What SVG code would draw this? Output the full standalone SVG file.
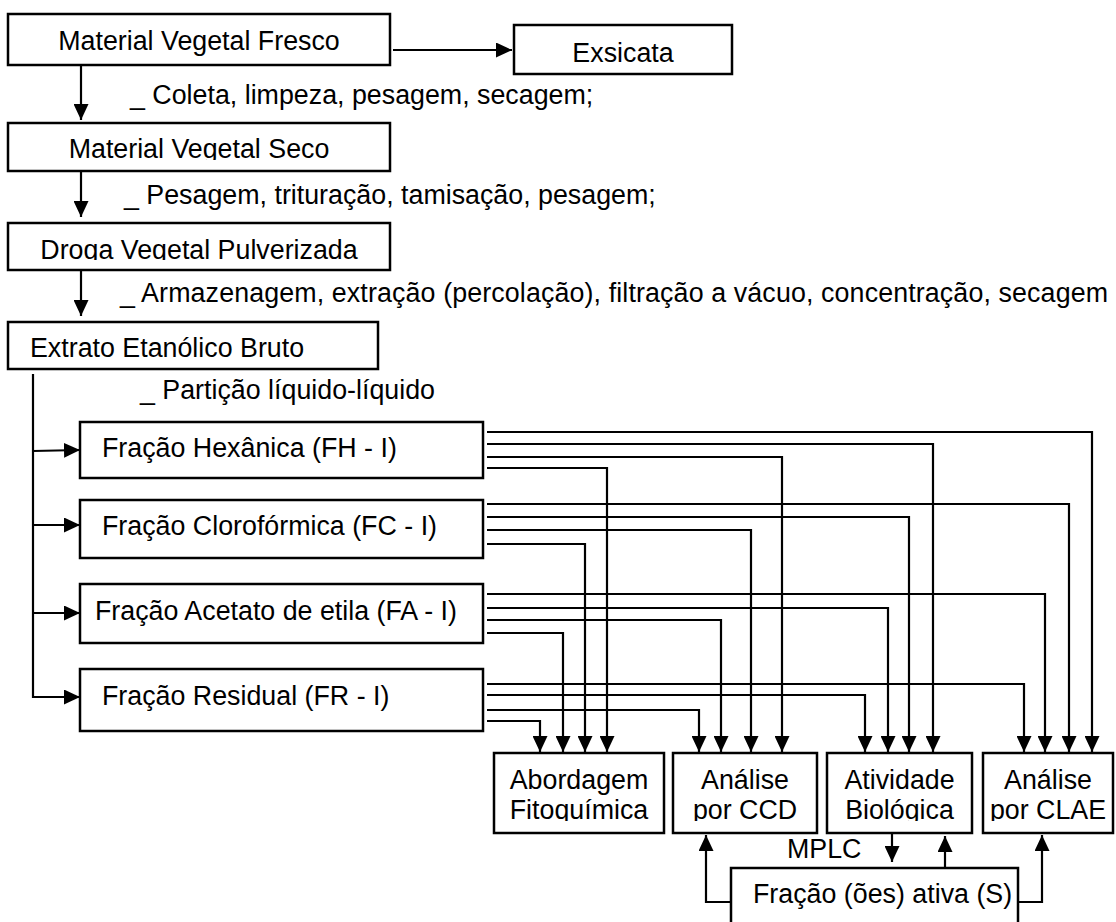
<svg xmlns="http://www.w3.org/2000/svg" width="1116" height="922" viewBox="0 0 1116 922">
<style>
.box{fill:#fff;stroke:#000;stroke-width:2.5}
.t{font-family:"Liberation Sans",Arial,sans-serif;font-size:26.8px;fill:#000}
.c{text-anchor:middle}
.ln{fill:none;stroke:#000;stroke-width:2.2}
</style>
<defs>
<marker id="ah" markerUnits="userSpaceOnUse" markerWidth="17" markerHeight="15" refX="16" refY="7.5" orient="auto">
<path d="M0,0 L16,7.5 L0,15 z" fill="#000"/>
</marker>
<clipPath id="cSeco"><rect x="0" y="0" width="1116" height="160"/></clipPath>
<clipPath id="cDroga"><rect x="0" y="0" width="1116" height="260"/></clipPath>
<clipPath id="cBot"><rect x="0" y="0" width="1116" height="821"/></clipPath>
</defs>
<rect width="1116" height="922" fill="#fff"/>

<g id="connectors" class="ln" marker-end="url(#ah)">
<path d="M393,50 H512"/>
<path d="M81,65 V120"/>
<path d="M81,171 V217"/>
<path d="M81,270 V316"/>
<path d="M33,374 V697 H80"/>
<path d="M33,451 L80,450"/>
<path d="M33,525 H80"/>
<path d="M33,613 H80"/>
<path d="M487,432 H1092 V752"/>
<path d="M487,444 H933 V752"/>
<path d="M487,457 H782 V752"/>
<path d="M487,468 H607 V752"/>
<path d="M487,504 H1069 V752"/>
<path d="M487,517 H909 V752"/>
<path d="M487,530 H751 V752"/>
<path d="M487,544 H585 V752"/>
<path d="M487,594 H1045 V752"/>
<path d="M487,608 H888 V752"/>
<path d="M487,620 H721 V752"/>
<path d="M487,633 H563 V752"/>
<path d="M487,684 H1024 V752"/>
<path d="M487,695 H865 V752"/>
<path d="M487,710 H699 V752"/>
<path d="M487,721 H540 V752"/>
<path d="M731,902 H706 V835"/>
<path d="M892,834 V862"/>
<path d="M945,868 V836"/>
<path d="M1018,902 H1042 V835"/>
</g>

<g id="labels" class="t">
<text x="130" y="104">_ Coleta, limpeza, pesagem, secagem;</text>
<text x="124" y="204">_ Pesagem, trituração, tamisação, pesagem;</text>
<text x="120" y="302" textLength="988" lengthAdjust="spacing">_ Armazenagem, extração (percolação), filtração a vácuo, concentração, secagem</text>
<text x="140" y="399">_ Partição líquido-líquido</text>
<text x="787" y="858">MPLC</text>
</g>

<g id="n-fresco"><rect class="box" x="8" y="14" width="382" height="51"/><text class="t c" x="199" y="50">Material Vegetal Fresco</text></g>
<g id="n-exsicata"><rect class="box" x="514" y="25" width="218" height="49"/><text class="t c" x="623" y="62">Exsicata</text></g>
<g id="n-seco"><rect class="box" x="8" y="123" width="382" height="48"/><text class="t c" x="199" y="158" clip-path="url(#cSeco)">Material Vegetal Seco</text></g>
<g id="n-droga"><rect class="box" x="8" y="223" width="382" height="47"/><text class="t c" x="199" y="259" clip-path="url(#cDroga)">Droga Vegetal Pulverizada</text></g>
<g id="n-extrato"><rect class="box" x="8" y="322" width="370" height="47"/><text class="t" x="30" y="357">Extrato Etanólico Bruto</text></g>

<g id="n-fh"><rect class="box" x="80" y="422" width="403" height="56"/><text class="t" x="102" y="457">Fração Hexânica (FH - I)</text></g>
<g id="n-fc"><rect class="box" x="80" y="500" width="403" height="58"/><text class="t" x="102" y="535">Fração Clorofórmica (FC - I)</text></g>
<g id="n-fa"><rect class="box" x="80" y="584" width="403" height="59"/><text class="t" x="95" y="620">Fração Acetato de etila (FA - I)</text></g>
<g id="n-fr"><rect class="box" x="80" y="669" width="403" height="62"/><text class="t" x="102" y="705">Fração Residual (FR - I)</text></g>

<g id="n-abordagem"><rect class="box" x="494" y="753" width="170" height="80"/><text class="t c" x="579" y="789">Abordagem</text><text class="t c" x="579" y="819" clip-path="url(#cBot)">Fitoquímica</text></g>
<g id="n-ccd"><rect class="box" x="673" y="753" width="144" height="80"/><text class="t c" x="745" y="789">Análise</text><text class="t c" x="745" y="819" clip-path="url(#cBot)">por CCD</text></g>
<g id="n-bio"><rect class="box" x="827" y="753" width="145" height="80"/><text class="t c" x="899.5" y="789">Atividade</text><text class="t c" x="899.5" y="819" clip-path="url(#cBot)">Biológica</text></g>
<g id="n-clae"><rect class="box" x="983" y="753" width="130" height="80"/><text class="t c" x="1048" y="789">Análise</text><text class="t c" x="1048" y="819" clip-path="url(#cBot)">por CLAE</text></g>

<g id="n-ativa"><rect class="box" x="731" y="868" width="287" height="70"/><text class="t" x="753" y="903">Fração (ões) ativa (S)</text></g>
</svg>
